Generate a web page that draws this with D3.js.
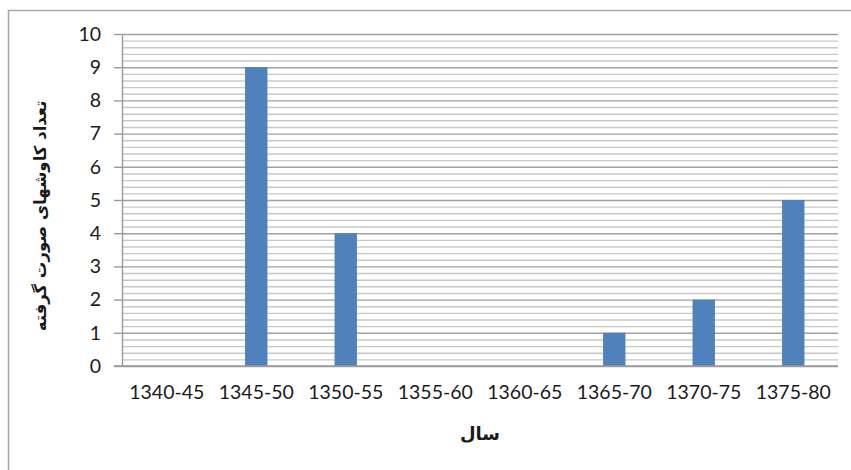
<!DOCTYPE html>
<html>
<head>
<meta charset="utf-8">
<script src="https://cdn.jsdelivr.net/npm/d3@7"></script>
<style>
  html, body { margin: 0; padding: 0; background: #fff; }
  svg { display: block; }
  text { font-family: Lato, "Open Sans", sans-serif; fill: #1a1a1a; }
</style>
</head>
<body>
<svg id="chart" width="851" height="470"></svg>
<script>
const categories = ["1340-45", "1345-50", "1350-55", "1355-60", "1360-65", "1365-70", "1370-75", "1375-80"];
const values = [0, 9, 4, 0, 0, 1, 2, 5];
const yTicks = [0, 1, 2, 3, 4, 5, 6, 7, 8, 9, 10];
const yMinorTicks = d3.range(0, 51).map(i => i / 5);
const xTitle = "سال";
const yTitle = "تعداد کاوشهای صورت گرفته";

const svg = d3.select("#chart");
const W = 851, H = 470;
const margin = { left: 122, right: 13, top: 34, bottom: 104 };
const pw = W - margin.left - margin.right;
const ph = H - margin.top - margin.bottom;

// outer chart border (top and left visible)
svg.append("path")
  .attr("d", `M8.5,${H} L8.5,10.5 L${W},10.5`)
  .attr("fill", "none").attr("stroke", "#a6a6a6").attr("stroke-width", 1.5);

const g = svg.append("g").attr("transform", `translate(${margin.left},${margin.top})`);

const x = d3.scaleBand().domain(categories).range([0, pw]).padding(0);
const y = d3.scaleLinear().domain([0, 10]).range([ph, 0]);

// minor gridlines
g.append("g").attr("class", "minor")
  .call(d3.axisLeft(y).tickValues(yMinorTicks.filter(v => Math.abs(v - Math.round(v)) > 1e-6)).tickSize(-pw).tickFormat(""))
  .call(s => s.select(".domain").remove())
  .call(s => s.selectAll("line").attr("stroke", "#c8c8c8").attr("stroke-width", 1.4));

// major gridlines
g.append("g").attr("class", "major")
  .call(d3.axisLeft(y).tickValues(yTicks).tickSize(-pw).tickFormat(""))
  .call(s => s.select(".domain").remove())
  .call(s => s.selectAll("line").attr("stroke", "#a0a0a0").attr("stroke-width", 1.4));

// bars
const bw = x.bandwidth() * 0.25;
g.selectAll("rect.bar").data(values).enter().append("rect")
  .attr("class", "bar")
  .attr("x", (d, i) => x(categories[i]) + x.bandwidth() / 2 - bw / 2)
  .attr("width", bw)
  .attr("y", d => y(d))
  .attr("height", d => ph - y(d))
  .attr("fill", "#4f81bd");

// y axis
const yAxis = g.append("g")
  .call(d3.axisLeft(y).tickValues(yTicks).tickSize(8).tickPadding(13).tickSizeOuter(0));
yAxis.select(".domain").attr("stroke", "#9a9a9a").attr("stroke-width", 1.4);
yAxis.selectAll(".tick line").attr("stroke", "#9a9a9a").attr("stroke-width", 1.4);
yAxis.selectAll(".tick text").style("font-size", "19.5px").attr("fill", "#1a1a1a");

// x axis baseline
g.append("line")
  .attr("x1", -8).attr("x2", pw).attr("y1", ph).attr("y2", ph)
  .attr("stroke", "#9a9a9a").attr("stroke-width", 1.4);

// x axis labels
const xAxis = g.append("g").attr("transform", `translate(0,${ph})`)
  .call(d3.axisBottom(x).tickSize(0).tickPadding(19));
xAxis.select(".domain").remove();
xAxis.selectAll(".tick text").style("font-size", "19.5px").attr("fill", "#1a1a1a");

// titles
svg.append("text")
  .attr("x", margin.left + pw / 2).attr("y", 440)
  .attr("text-anchor", "middle")
  .style("font-family", "'DejaVu Sans', 'Noto Sans', sans-serif")
  .style("font-weight", "bold").style("font-size", "18px")
  .text(xTitle);

svg.append("text")
  .attr("transform", "translate(46,216) rotate(-90)")
  .attr("text-anchor", "middle")
  .style("font-family", "'DejaVu Sans', 'Noto Sans', sans-serif")
  .style("font-weight", "bold").style("font-size", "16.5px")
  .text(yTitle);
</script>
</body>
</html>
